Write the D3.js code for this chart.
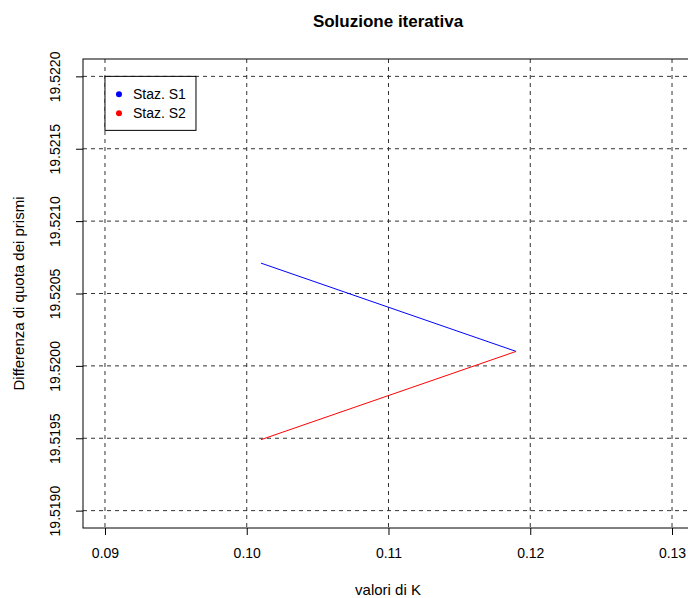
<!DOCTYPE html>
<html>
<head>
<meta charset="utf-8">
<script src="https://cdn.jsdelivr.net/npm/d3@7"></script>
<style>
body { margin:0; background:#fff; }
text { font-family: "Liberation Sans", Arial, sans-serif; }
</style>
</head>
<body>
<div id="chart-area"></div>
<script>
// data
var kS1 = [0.1010, 0.1190];
var dS1 = [19.52071, 19.52010];
var kS2 = [0.1010, 0.1190];
var dS2 = [19.51949, 19.52010];
var xTicks = [0.09, 0.10, 0.11, 0.12, 0.13];
var yTicks = [19.5190, 19.5195, 19.5200, 19.5205, 19.5210, 19.5215, 19.5220];
var seriesNames = ["Staz. S1", "Staz. S2"];
var seriesColors = ["blue", "red"];

var W = 688, H = 598;
var margin = { left:83, right:-5, top:59, bottom:70 };
var width = W - margin.left - margin.right,
    height = H - margin.top - margin.bottom;

var svg = d3.select("#chart-area").append("svg")
    .attr("width", W).attr("height", H);
var g = svg.append("g")
    .attr("transform", "translate(" + margin.left + "," + margin.top + ")");

var x = d3.scaleLinear().domain([0.08845, 0.13148]).range([0, width]);
var y = d3.scaleLinear().domain([19.51888, 19.52212]).range([height, 0]);

// grid
g.selectAll(".vgrid").data(xTicks).enter().append("line")
    .attr("x1", function(d){ return x(d); }).attr("x2", function(d){ return x(d); })
    .attr("y1", 0).attr("y2", height)
    .attr("stroke", "#333").attr("stroke-dasharray", "4,4");
g.selectAll(".hgrid").data(yTicks).enter().append("line")
    .attr("y1", function(d){ return y(d); }).attr("y2", function(d){ return y(d); })
    .attr("x1", 0).attr("x2", width)
    .attr("stroke", "#333").attr("stroke-dasharray", "4,4");

// axes
var xAxisCall = d3.axisBottom(x).tickValues(xTicks).tickSize(7).tickPadding(13)
    .tickFormat(d3.format(".2f"));
var xa = g.append("g").attr("transform", "translate(0," + height + ")").call(xAxisCall);
var yAxisCall = d3.axisLeft(y).tickValues(yTicks).tickSize(7)
    .tickFormat(d3.format(".4f"));
var ya = g.append("g").call(yAxisCall);
[xa, ya].forEach(function(a){
    a.select(".domain").remove();
    a.selectAll("line").attr("stroke", "#000");
    a.selectAll("text").attr("font-size", "14px").attr("fill", "#000")
        .style("font-family", "Liberation Sans, Arial, sans-serif");
});
ya.selectAll(".tick text")
    .attr("x", null).attr("dy", null)
    .attr("text-anchor", "middle")
    .attr("transform", "translate(-23,0) rotate(-90)");

// box
g.append("rect").attr("width", width).attr("height", height)
    .attr("fill", "none").attr("stroke", "#000");

// lines
var line = d3.line().x(function(d){ return x(d[0]); }).y(function(d){ return y(d[1]); });
g.append("path").datum(d3.zip(kS1, dS1)).attr("d", line)
    .attr("fill", "none").attr("stroke", seriesColors[0]);
g.append("path").datum(d3.zip(kS2, dS2)).attr("d", line)
    .attr("fill", "none").attr("stroke", seriesColors[1]);

// legend
var leg = g.append("g").attr("transform", "translate(" + x(0.09) + "," + y(19.5220) + ")");
leg.append("rect").attr("width", 91).attr("height", 54)
    .attr("fill", "#fff").attr("stroke", "#000");
seriesNames.forEach(function(n, i){
    leg.append("circle").attr("cx", 14).attr("cy", 18 + i * 19).attr("r", 3)
        .attr("fill", seriesColors[i]);
    leg.append("text").attr("x", 28).attr("y", 18 + i * 19).attr("dy", "0.35em")
        .attr("font-size", "14px").text(n);
});

// labels
svg.append("text").attr("x", 388).attr("y", 27).attr("text-anchor", "middle")
    .attr("font-size", "17px").attr("font-weight", "bold").text("Soluzione iterativa");
svg.append("text").attr("x", 388).attr("y", 595).attr("text-anchor", "middle")
    .attr("font-size", "15px").text("valori di K");
svg.append("text").attr("transform", "translate(24," + (margin.top + height / 2) + ") rotate(-90)")
    .attr("text-anchor", "middle").attr("font-size", "15px").text("Differenza di quota dei prismi");
</script>
</body>
</html>
